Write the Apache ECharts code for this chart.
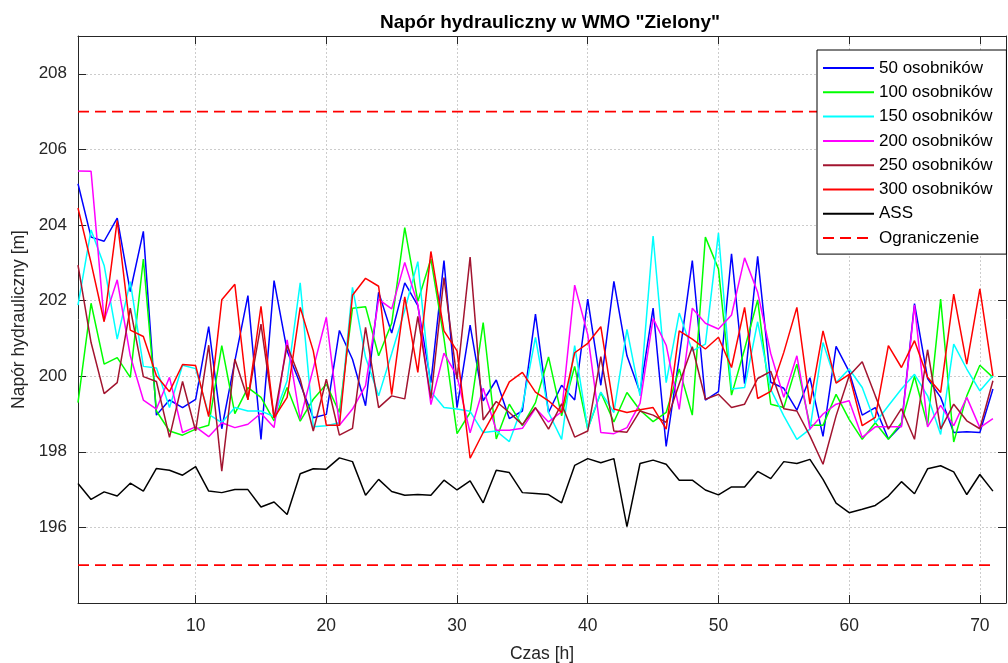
<!DOCTYPE html>
<html><head><meta charset="utf-8">
<script src="https://cdn.jsdelivr.net/npm/echarts@6/dist/echarts.min.js"></script>
<style>html,body{margin:0;padding:0;background:#fff}#c{width:1008px;height:663px}</style>
</head><body><div id="c"></div>
<script>
const hours = [1,2,3,4,5,6,7,8,9,10,11,12,13,14,15,16,17,18,19,20,21,22,23,24,25,26,27,28,29,30,31,32,33,34,35,36,37,38,39,40,41,42,43,44,45,46,47,48,49,50,51,52,53,54,55,56,57,58,59,60,61,62,63,64,65,66,67,68,69,70,71];
const xTicks = [10,20,30,40,50,60,70];
const yTicks = [196,198,200,202,204,206,208];

const s50 = [205.09,203.68,203.57,204.18,202.24,203.83,198.97,199.37,199.17,199.39,201.31,198.61,200.4,202.13,198.33,202.53,200.67,199.8,198.9,198.99,201.21,200.45,199.22,202.22,201.14,202.47,201.87,199.83,203.06,199.17,201.35,199.35,199.9,198.88,199.08,201.64,199.04,199.76,199.37,202.04,199.76,202.51,200.54,199.57,201.8,198.14,200.5,203.06,199.37,199.59,203.24,199.8,203.17,199.84,199.68,199.1,199.96,198.41,200.79,200.12,198.97,199.17,198.34,198.7,201.92,199.94,199.44,198.51,198.53,198.51,199.66];
const s100 = [199.3,201.93,200.32,200.49,199.97,203.1,199.08,198.55,198.44,198.6,198.7,200.81,199.01,199.7,199.44,198.82,199.7,198.81,199.39,199.79,199.04,201.8,201.84,200.54,201.4,203.93,201.98,203.1,201.0,198.48,199.04,201.42,198.34,199.26,198.69,199.3,200.51,198.95,200.26,198.6,199.57,198.79,199.57,199.1,198.8,199.04,200.19,198.97,203.68,202.84,199.5,200.72,202.02,199.26,199.17,200.32,198.7,198.7,199.52,198.86,198.33,198.77,198.33,198.77,200.0,198.7,202.04,198.26,199.48,200.29,199.97];
const s150 = [201.88,203.87,202.93,200.98,202.5,200.26,200.22,199.17,200.29,200.2,198.99,198.77,199.17,199.08,199.08,198.93,199.88,202.47,198.66,198.69,198.77,202.35,200.5,199.48,200.6,201.75,203.03,199.59,199.17,199.13,199.07,198.51,198.55,198.27,199.2,201.03,199.04,198.33,200.81,198.6,199.58,199.04,201.24,199.48,203.71,199.83,201.67,200.67,200.85,203.79,199.66,199.7,201.44,199.65,198.95,198.33,198.6,200.89,199.83,200.19,199.7,198.77,199.22,199.66,200.05,199.48,198.46,200.85,200.19,199.61,200.01];
const s200 = [205.43,205.42,201.47,202.55,200.54,199.37,199.13,199.97,198.51,198.66,198.4,198.77,198.64,198.73,199.02,198.64,200.96,198.86,200.2,201.56,198.7,199.13,199.75,202.03,201.78,203.01,201.9,199.25,200.61,200.0,198.5,199.68,198.57,198.57,198.62,199.15,198.79,199.06,202.41,201.1,198.51,198.48,198.64,199.28,201.53,200.82,199.12,201.8,201.4,201.25,201.62,203.13,202.22,200.6,199.44,200.54,198.6,199.0,199.26,199.35,198.38,198.66,198.66,198.66,201.88,198.66,199.23,198.69,199.44,198.64,198.88];
const s250 = [202.94,200.89,199.54,199.83,201.8,199.99,199.86,198.38,199.86,198.55,200.82,197.49,200.45,199.39,201.38,198.9,200.82,199.92,198.55,199.92,198.44,198.62,201.29,199.17,199.48,199.4,201.58,199.41,202.61,199.92,203.15,198.84,199.33,199.04,198.72,199.17,198.6,199.27,198.39,198.55,200.52,198.55,198.52,199.08,198.97,198.78,199.8,200.78,199.39,199.52,199.17,199.26,199.94,200.13,199.14,199.08,198.42,197.67,198.95,200.01,200.38,199.48,198.6,199.14,198.33,200.7,198.6,199.26,198.82,198.61,199.88];
const s300 = [204.45,203.0,201.44,204.12,201.22,201.05,200.01,199.59,200.31,200.28,198.93,202.02,202.43,199.37,201.85,198.9,199.44,201.82,200.67,198.7,198.7,202.14,202.59,202.38,199.51,202.1,200.1,203.3,201.2,200.67,197.83,198.51,199.13,199.85,200.1,199.58,199.35,199.04,200.62,200.87,201.31,199.13,199.04,199.11,199.17,198.6,201.2,200.98,200.72,201.03,200.23,201.82,199.41,199.6,200.63,201.82,199.26,201.2,199.82,200.05,198.69,198.91,200.81,200.23,200.94,199.97,199.57,202.17,200.32,202.31,200.01];
const ass = [197.16,196.74,196.94,196.83,197.17,196.96,197.56,197.51,197.38,197.61,196.96,196.92,197.0,197.0,196.54,196.67,196.34,197.42,197.55,197.54,197.84,197.74,196.85,197.27,196.95,196.85,196.87,196.85,197.25,196.99,197.23,196.65,197.51,197.45,196.92,196.9,196.87,196.65,197.64,197.82,197.71,197.82,196.02,197.69,197.78,197.67,197.25,197.25,196.99,196.86,197.07,197.07,197.48,197.29,197.74,197.69,197.8,197.27,196.64,196.39,196.48,196.58,196.83,197.21,196.89,197.55,197.63,197.47,196.87,197.4,196.96];

const limitHours = [1, 71];
const upperLimit = 207;
const lowerLimit = 195;

const seriesNames = ['50 osobników','100 osobników','150 osobników','200 osobników','250 osobników','300 osobników','ASS'];
const seriesValues = [s50, s100, s150, s200, s250, s300, ass];
const seriesColors = ['#0000ff','#00ff00','#00ffff','#ff00ff','#a2142f','#ff0000','#000000'];
const limitName = 'Ograniczenie';

const FONT = '"Liberation Sans", Arial, Helvetica, sans-serif';
const AX = '#262626';

const series = seriesValues.map((vals, k) => ({
  name: seriesNames[k], type: 'line', xAxisIndex: 0, yAxisIndex: 0,
  symbol: 'none', animation: false,
  data: hours.map((h, i) => [h, vals[i]]),
  lineStyle: { color: seriesColors[k], width: 1.5 },
  itemStyle: { color: seriesColors[k] }
}));
[upperLimit, lowerLimit].forEach(v => {
  series.push({
    name: limitName, type: 'line', symbol: 'none', animation: false,
    data: limitHours.map(h => [h, v]),
    lineStyle: { color: '#ff0000', width: 1.8, type: [11, 6] },
    itemStyle: { color: '#ff0000' }
  });
});

const gridLine = { show: true, lineStyle: { color: '#cccccc', width: 1, type: [2, 2] } };
const axLine = { show: true, onZero: false, lineStyle: { color: AX, width: 1 } };

const option = {
  backgroundColor: '#fff',
  animation: false,
  textStyle: { fontFamily: FONT },
  title: {
    text: 'Napór hydrauliczny w WMO "Zielony"',
    left: 545, top: 8, textAlign: 'center',
    textStyle: { fontFamily: FONT, fontSize: 19, fontWeight: 'bold', color: '#000' }
  },
  grid: { left: 78, right: 2, top: 36, bottom: 60, containLabel: false, outerBoundsMode: 'none' },
  legend: {
    orient: 'vertical', left: 817, top: 50,
    padding: [8, 14, 6, 5], itemGap: 4.3, itemWidth: 51, itemHeight: 14,
    borderColor: '#000', borderWidth: 1, backgroundColor: '#fff',
    itemStyle: { opacity: 0 },
    data: seriesNames.concat([limitName]),
    textStyle: { fontFamily: FONT, fontSize: 17, color: '#000', lineHeight: 20 }
  },
  xAxis: [
    { type: 'value', min: 1, max: 72, position: 'bottom',
      axisLine: axLine,
      axisTick: { show: true, inside: true, length: 8, customValues: xTicks, lineStyle: { color: AX } },
      axisLabel: { customValues: xTicks, fontSize: 17.5, color: AX, margin: 14, fontFamily: FONT },
      splitLine: gridLine,
      name: 'Czas [h]', nameLocation: 'middle', nameGap: 42,
      nameTextStyle: { fontSize: 17.5, color: AX, fontFamily: FONT } },
    { type: 'value', min: 1, max: 72, position: 'top',
      axisLine: axLine,
      axisTick: { show: true, inside: true, length: 8, customValues: xTicks, lineStyle: { color: AX } },
      axisLabel: { show: false, customValues: xTicks },
      splitLine: { show: false } }
  ],
  yAxis: [
    { type: 'value', min: 194, max: 209, position: 'left',
      axisLine: axLine,
      axisTick: { show: true, inside: true, length: 8, customValues: yTicks, lineStyle: { color: AX } },
      axisLabel: { customValues: yTicks, fontSize: 17, color: AX, margin: 11, fontFamily: FONT },
      splitLine: gridLine,
      name: 'Napór hydrauliczny [m]', nameLocation: 'middle', nameGap: 47,
      nameTextStyle: { fontSize: 17.5, color: AX, fontFamily: FONT } },
    { type: 'value', min: 194, max: 209, position: 'right',
      axisLine: axLine,
      axisTick: { show: true, inside: true, length: 8, customValues: yTicks, lineStyle: { color: AX } },
      axisLabel: { show: false, customValues: yTicks },
      splitLine: { show: false } }
  ],
  series: series
};
const chart = echarts.init(document.getElementById('c'), null, { renderer: 'canvas' });
chart.setOption(option);
</script>
</body></html>
